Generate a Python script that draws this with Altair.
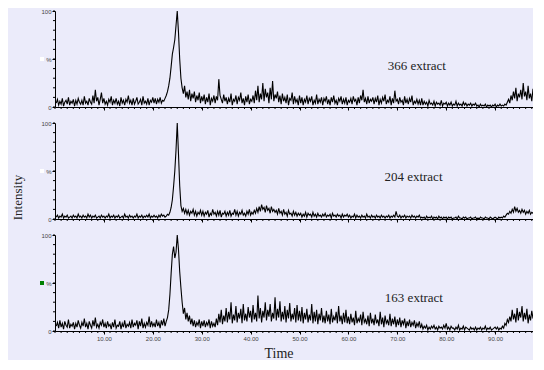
import altair as alt
import pandas as pd

# ---- data (one value every 0.25 min, starting at 0.25) ----
T_START = 0.25
T_STEP = 0.25

S366 = [
    4,8,2,6,3,9,1,5,7,3,10,2,6,4,8,1,7,3,9,5,
    3,7,2,11,4,6,2,9,5,3,12,4,18,6,10,2,8,15,4,9,
    3,6,2,8,5,11,2,7,4,9,3,6,1,10,4,7,2,8,5,12,
    4,7,2,9,3,6,10,3,5,8,2,11,4,6,3,9,2,7,5,10,
    4,9,3,8,5,10,4,7,6,9,12,16,22,30,42,55,62,70,85,100,
    78,50,30,20,14,22,10,16,8,18,6,14,9,16,5,12,7,15,4,11,
    6,13,3,10,5,14,2,9,6,12,4,11,7,29,12,8,4,13,6,10,
    3,9,5,14,2,8,6,12,3,10,7,15,4,9,2,11,5,13,3,8,
    6,12,4,17,7,22,5,14,8,25,6,19,10,15,4,20,8,27,6,13,
    9,16,5,12,3,14,6,10,4,13,2,9,7,15,3,11,5,8,2,12,
    4,10,2,8,5,12,3,9,6,11,2,7,4,13,3,8,5,10,2,9,
    6,11,3,8,2,10,5,12,4,7,2,9,6,11,3,8,4,10,2,7,
    5,9,3,11,6,8,2,10,4,12,7,18,5,9,3,11,4,8,6,10,
    3,9,5,12,2,8,4,10,6,13,3,7,5,11,2,9,4,17,6,8,
    3,10,5,7,2,11,4,8,3,9,5,12,2,6,4,8,3,7,2,9,
    2,6,3,5,1,7,3,4,2,6,1,5,3,4,2,7,1,4,3,5,
    1,4,2,5,1,3,2,6,1,4,2,3,1,5,2,4,1,3,2,4,
    1,3,2,4,1,2,0,3,1,2,1,3,0,2,1,2,0,2,1,3,
    0,2,1,3,1,2,1,3,2,5,8,4,12,7,16,9,20,6,14,10,
    18,8,25,11,16,7,22,9,14,6,19,12,
]

S204 = [
    2,4,1,3,2,5,1,3,2,4,1,2,3,1,4,2,3,1,5,2,
    3,1,4,2,3,1,5,2,4,1,3,2,4,1,2,3,1,4,2,3,
    1,3,2,5,1,3,2,4,1,3,2,4,1,2,3,1,5,2,3,1,
    4,2,3,1,3,2,5,1,3,2,4,1,3,2,4,2,5,1,3,2,
    4,2,3,1,4,2,5,3,4,2,3,5,4,7,12,20,34,50,72,100,
    68,35,14,8,11,6,10,5,9,4,8,6,10,4,8,3,7,5,9,4,
    8,3,7,5,9,2,6,4,10,5,7,3,8,4,9,2,6,5,8,3,
    7,4,9,3,6,5,10,4,8,3,7,5,9,4,6,3,8,5,10,4,
    7,5,9,6,11,7,13,8,15,10,12,7,14,9,11,6,13,8,10,7,
    9,5,11,6,8,4,10,5,7,3,9,5,6,3,8,4,7,3,6,4,
    6,2,5,3,7,2,6,4,5,2,7,3,5,2,6,3,4,2,5,3,
    6,2,4,3,5,1,6,3,4,2,5,3,4,1,5,2,4,3,5,2,
    4,1,3,2,5,1,4,2,3,1,4,2,3,1,5,2,3,1,4,2,
    3,1,4,2,3,1,4,2,3,1,3,2,4,1,3,2,4,2,8,3,
    2,4,1,3,2,4,1,3,2,3,1,4,2,3,1,3,2,4,1,2,
    1,2,0,3,1,2,1,3,0,2,1,2,0,3,1,2,0,2,1,2,
    0,2,1,2,0,1,1,2,0,3,1,1,0,2,1,2,0,1,1,2,
    0,1,1,2,0,1,0,2,1,1,0,2,1,1,0,2,1,0,1,2,
    1,0,2,1,2,1,3,2,4,6,5,8,6,10,7,13,8,11,7,9,
    6,10,7,9,5,8,6,9,5,7,6,8,
]

S163 = [
    5,9,3,11,4,8,2,10,6,4,12,3,7,5,9,2,8,4,11,6,
    3,9,5,13,4,8,2,10,6,3,11,5,14,4,7,3,9,6,12,4,
    8,3,10,5,7,2,9,4,12,3,6,5,10,2,8,4,11,3,7,5,
    9,3,12,4,8,6,11,2,10,5,13,3,8,4,9,6,15,4,10,5,
    8,4,12,5,9,3,11,6,13,5,10,14,22,38,60,80,88,76,82,100,
    85,62,45,30,18,24,12,19,10,16,7,13,5,11,4,9,6,12,3,10,
    5,11,4,9,6,12,3,10,5,8,4,13,6,18,9,22,7,16,10,24,
    9,20,12,30,8,17,11,26,9,19,13,23,8,28,11,18,10,25,14,21,
    9,27,12,19,10,37,13,24,9,21,14,30,11,22,15,28,10,19,13,35,
    11,23,14,31,10,20,12,26,9,22,13,29,10,18,12,24,9,27,11,21,
    10,25,8,19,12,23,9,17,11,28,8,20,10,22,7,18,11,24,9,16,
    8,21,10,17,7,23,9,15,11,20,8,26,10,16,7,19,9,22,8,15,
    7,18,9,14,6,21,8,13,10,17,6,20,9,12,7,16,5,19,8,13,
    6,17,8,12,5,20,7,14,4,16,8,11,6,18,5,13,7,15,4,12,
    6,14,4,11,7,13,3,10,5,12,4,9,6,11,3,8,5,10,3,7,
    2,5,3,6,1,4,2,5,3,6,2,4,1,5,3,4,2,6,3,8,
    2,4,1,5,3,3,1,4,2,6,1,3,2,5,1,4,3,2,1,4,
    2,3,1,4,1,3,2,4,1,3,2,5,1,3,2,4,1,2,3,4,
    2,4,1,3,2,5,3,8,6,12,9,15,10,22,12,18,9,24,11,20,
    14,26,10,19,12,23,8,17,11,21,13,18,
]

SERIES = [S366, S204, S163]
LABELS = ["366 extract", "204 extract", "163 extract"]
MARKER_COLORS = ["white", "white", "green"]

X_MAJOR = [10, 20, 30, 40, 50, 60, 70, 80, 90]
X_MINOR = [i * 1.25 for i in range(79)]
Y_MAJOR = [0, 50, 100]
Y_MINOR = [0, 10, 20, 30, 40, 50, 60, 70, 80, 90, 100]

# ---- layout / style ----
X_END = 97.75
W, H = 478, 96
LABEL_POS = [(74, 43), (73.3, 44), (73.4, 34)]
BG = "#ebebfa"

xs = alt.Scale(domain=[0, X_END], nice=False, zero=False)
ys = alt.Scale(domain=[0, 100], nice=False)


def panel(idx):
    vals = SERIES[idx]
    times = [T_START + T_STEP * i for i in range(len(vals))]
    df = pd.DataFrame({"t": times, "v": vals})
    bottom = idx == 2
    middle = idx == 1

    xaxis_kw = dict(values=X_MAJOR, labels=bottom, format=".2f", labelFontSize=6,
                    labelFont="Liberation Sans", labelColor="#444", labelPadding=1,
                    labelFlush=False,
                    tickSize=3, tickColor="black", domainColor="black", grid=False)
    if bottom:
        xaxis_kw.update(title="Time", titleFont="Liberation Serif", titleFontSize=14,
                        titleFontWeight="normal", titleColor="#222", titleX=223.5,
                        titleY=26, titleBaseline="alphabetic", titleAlign="center")
    else:
        xaxis_kw.update(title=None)

    yaxis_kw = dict(values=Y_MAJOR, labelExpr="datum.value == 50 ? '%' : datum.label",
                    labelFontSize=6, labelFont="Liberation Sans", labelColor="#444",
                    labelPadding=1, labelFlush=False, tickSize=3, tickColor="black",
                    domainColor="black", grid=False)
    if middle:
        yaxis_kw.update(title="Intensity", titleFont="Liberation Serif", titleFontSize=13,
                        titleFontWeight="normal", titleColor="#222", titleX=-34,
                        titleY=74, titleAlign="center", titleAngle=270,
                        titleBaseline="alphabetic")
    else:
        yaxis_kw.update(title=None)

    xenc = alt.X("t:Q", scale=xs, axis=alt.Axis(**xaxis_kw))
    yenc = alt.Y("v:Q", scale=ys, axis=alt.Axis(**yaxis_kw))

    line = alt.Chart(df).mark_line(color="black", strokeWidth=1.1, clip=True).encode(x=xenc, y=yenc)

    xminor = alt.Chart(pd.DataFrame({"t": X_MINOR})).mark_rule(
        color="black", strokeWidth=1).encode(
        x=xenc, y=alt.value(H), y2=alt.value(H + 2),
    )
    yminor = alt.Chart(pd.DataFrame({"v": Y_MINOR})).mark_rule(
        color="black", strokeWidth=1).encode(
        y=yenc, x=alt.value(-2), x2=alt.value(0),
    )

    lx, ly = LABEL_POS[idx]
    text = alt.Chart(pd.DataFrame({"label": [LABELS[idx]]})).mark_text(
        font="Liberation Serif", fontSize=13, color="#222", baseline="middle",
        align="center").encode(
        x=alt.XDatum(lx, scale=xs),
        y=alt.YDatum(ly, scale=ys),
        text="label:N",
    )

    marker = alt.Chart(pd.DataFrame({"c": [MARKER_COLORS[idx]]})).mark_square(
        size=16, opacity=1).encode(
        x=alt.value(-13),
        y=alt.YDatum(50, scale=ys),
        color=alt.Color("c:N", scale=None),
    )

    return alt.layer(line, xminor, yminor, text, marker).properties(width=W, height=H)


chart = alt.vconcat(panel(0), panel(1), panel(2), spacing=16, bounds="flush").configure_view(
    stroke=None
).properties(
    background=BG,
    padding={"left": 3, "top": 0, "right": 0, "bottom": 0},
)

chart.save("out.html", embed_options={"renderer": "svg", "actions": False})
